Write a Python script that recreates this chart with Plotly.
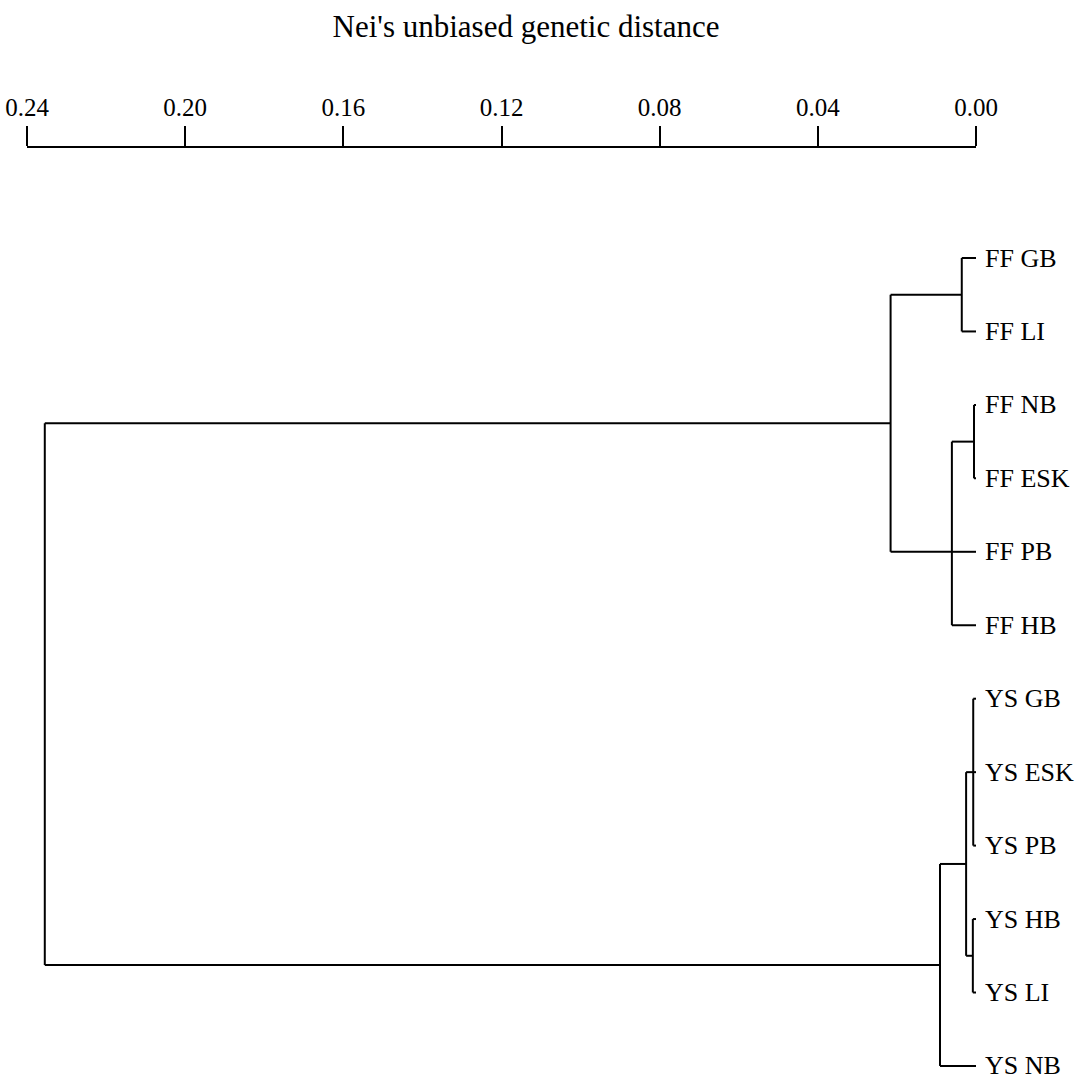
import plotly.graph_objects as go

# ---- data ----
leaf_labels = ["FF GB", "FF LI", "FF NB", "FF ESK", "FF PB", "FF HB",
               "YS GB", "YS ESK", "YS PB", "YS HB", "YS LI", "YS NB"]

node_names = ["ff_gb_li", "ff_nb_esk", "ff_south", "ff",
              "ys_gb_esk_pb", "ys_hb_li", "ys_core", "ys", "root"]
node_children = [
    ["FF GB", "FF LI"],
    ["FF NB", "FF ESK"],
    ["ff_nb_esk", "FF PB", "FF HB"],
    ["ff_gb_li", "ff_south"],
    ["YS GB", "YS ESK", "YS PB"],
    ["YS HB", "YS LI"],
    ["ys_gb_esk_pb", "ys_hb_li"],
    ["ys_core", "YS NB"],
    ["ff", "ys"],
]
node_heights = [0.0036, 0.0005, 0.0061, 0.0216, 0.0007, 0.0008, 0.0025, 0.0091, 0.2355]

tick_vals = [0.24, 0.20, 0.16, 0.12, 0.08, 0.04, 0.00]
tick_text = ["0.24", "0.20", "0.16", "0.12", "0.08", "0.04", "0.00"]

# ---- build dendrogram geometry ----
pos_y = {name: i for i, name in enumerate(leaf_labels)}
pos_x = {name: 0.0 for name in leaf_labels}
for name, ch, h in zip(node_names, node_children, node_heights):
    ys = [pos_y[c] for c in ch]
    if len(ch) == 3:
        pos_y[name] = sorted(ys)[1]
    else:
        pos_y[name] = sum(ys) / len(ys)
    pos_x[name] = h

lx, ly = [], []
for name, ch, h in zip(node_names, node_children, node_heights):
    ys = [pos_y[c] for c in ch]
    lx += [h, h, None]
    ly += [min(ys), max(ys), None]
    for c in ch:
        lx += [pos_x[c], h, None]
        ly += [pos_y[c], pos_y[c], None]

fig = go.Figure()
fig.add_trace(go.Scatter(x=lx, y=ly, mode="lines",
                         line=dict(color="black", width=2),
                         hoverinfo="skip", showlegend=False, cliponaxis=False))

serif = "Liberation Serif, Times New Roman, serif"
for name in leaf_labels:
    fig.add_annotation(x=0, y=pos_y[name], xref="x", yref="y", text=name,
                       showarrow=False, xanchor="left", yanchor="middle", xshift=7,
                       font=dict(family=serif, size=26, color="black"))

top_px = 148
leaf0_px = 258
spacing = 73.45
r0 = -(leaf0_px - top_px) / spacing
bottom_px = 1080
r1 = len(leaf_labels) - 1 + (bottom_px - (leaf0_px + spacing * (len(leaf_labels) - 1))) / spacing

fig.update_layout(
    width=1086, height=1085,
    margin=dict(l=27, r=110, t=top_px, b=1085 - bottom_px),
    paper_bgcolor="white", plot_bgcolor="white",
    title=dict(text="Nei's unbiased genetic distance", x=526 / 1086, xref="container",
               xanchor="center", y=1 - 26 / 1085, yref="container", yanchor="middle",
               font=dict(family=serif, size=31, color="black")),
    xaxis=dict(range=[0.24, 0.0], side="top", showgrid=False, zeroline=False,
               showline=True, linecolor="black", linewidth=2,
               ticks="outside", ticklen=20, tickwidth=1.5, tickcolor="black",
               tickvals=tick_vals, ticktext=tick_text,
               tickfont=dict(family=serif, size=25, color="black")),
    yaxis=dict(range=[r1, r0], showgrid=False, zeroline=False, showline=False,
               showticklabels=False, ticks=""),
)

fig.write_html("out.html")
